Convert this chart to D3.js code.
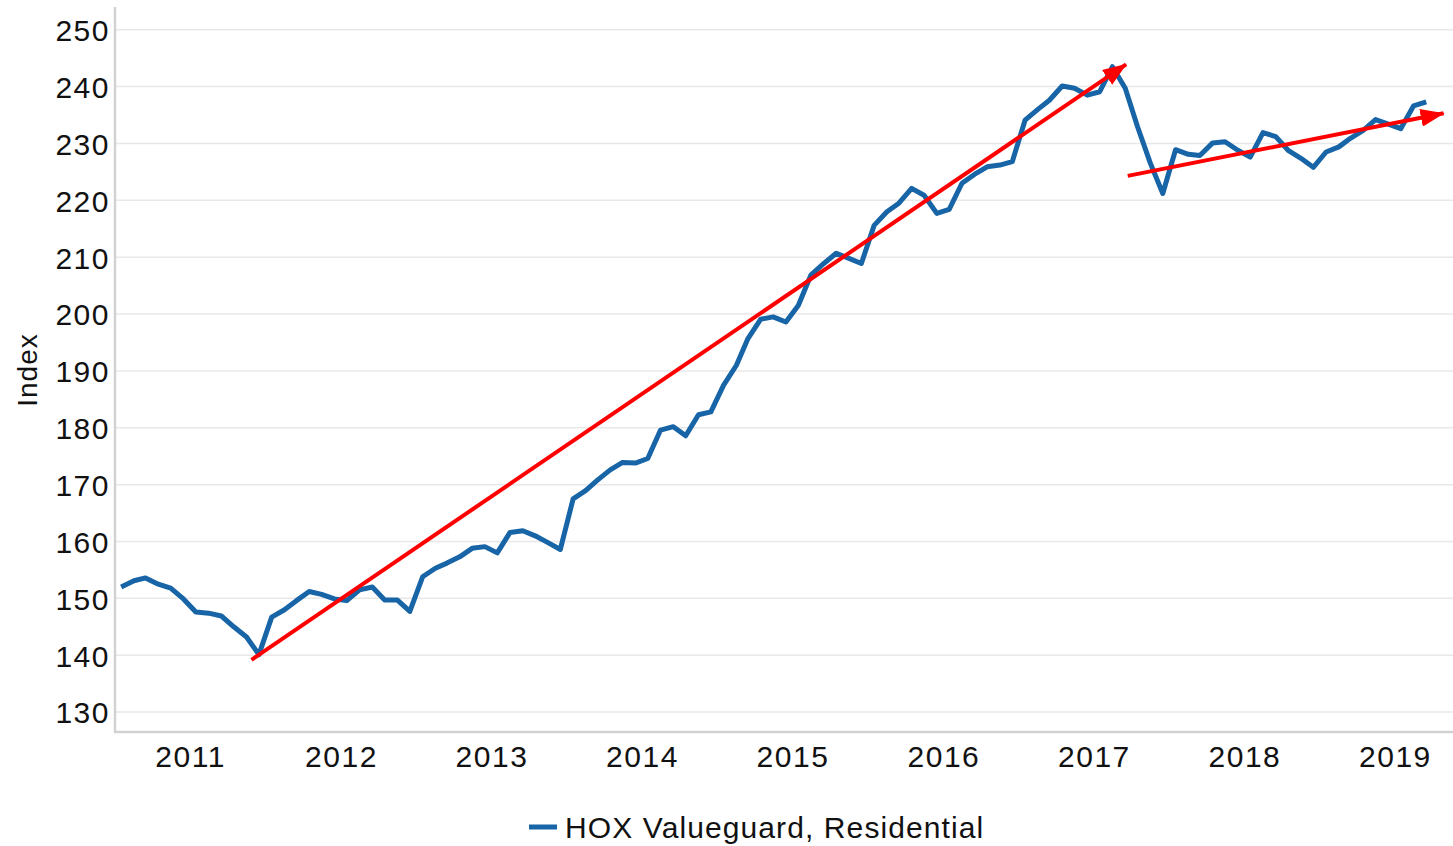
<!DOCTYPE html>
<meta charset="utf-8">
<style>
body { margin: 0; background: #fff; }
text {
  font-family: "Liberation Sans", Arial, sans-serif;
  fill: #111;
}
.grid line { stroke: #e8e8e8; stroke-width: 1.5px; }
.axis-line { stroke: #d2d2d2; stroke-width: 2.5px; }
.series { fill: none; stroke: #1764a6; stroke-width: 5px; stroke-linejoin: round; }
.trend { stroke: #ff0000; stroke-width: 4px; }
</style>
<body>
<script src="https://cdn.jsdelivr.net/npm/d3@7"></script>
<script>

// monthly index, Jan 2011 .. Sep 2019
var startYear = 2011;
var hox = [
  152.0, 153.1, 153.6, 152.5, 151.8, 149.9, 147.6, 147.4, 146.9, 145.0, 143.2, 140.1,
  146.7, 148.0, 149.6, 151.2, 150.7, 149.9, 149.6, 151.5, 152.0, 149.7, 149.7, 147.7,
  153.8, 155.3, 156.2, 157.3, 158.8, 159.1, 158.0, 161.6, 161.9, 161.0, 159.8, 158.6,
  167.5, 169.0, 170.8, 172.6, 173.9, 173.8, 174.6, 179.6, 180.2, 178.6, 182.3, 182.8,
  187.5, 191.0, 195.7, 199.1, 199.5, 198.6, 201.5, 206.9, 208.9, 210.7, 209.8, 208.9,
  215.6, 218.0, 219.5, 222.1, 220.9, 217.7, 218.4, 223.0, 224.6, 225.9, 226.2, 226.8,
  234.1, 236.0, 237.6, 240.1, 239.7, 238.5, 239.1, 243.5, 239.7, 232.9, 226.5, 221.2,
  228.9, 228.1, 227.9, 230.1, 230.3, 228.8, 227.6, 231.9, 231.2, 228.8, 227.4, 225.8,
  228.5, 229.4, 230.9, 232.3, 234.2, 233.4, 232.6, 236.6, 237.3
];

var yTicks = [130, 140, 150, 160, 170, 180, 190, 200, 210, 220, 230, 240, 250];
var yearLabels = [2011, 2012, 2013, 2014, 2015, 2016, 2017, 2018, 2019];
var seriesName = "HOX Valueguard, Residential";

// red trend arrows drawn on top: [start month index, start value, end month index, end value]
var trendArrows = [
  [10.4, 139.2, 80.1, 243.9],
  [80.2, 224.3, 105.4, 235.3]
];

var width = 1453,
    height = 846;

var data = hox.map(function (v, i) {
  return {date: new Date(startYear, i, 16), value: v};
});

function monthDate(m) {
  var whole = Math.floor(m);
  return new Date(startYear, whole, 16 + (m - whole) * 30);
}

var x = d3.scaleTime()
    .domain([new Date(2011, 0, 1), new Date(2020, 0, 1)])
    .range([115, 1470.4]);

var y = d3.scaleLinear()
    .domain([126.5, 254])
    .range([732, 7]);

var svg = d3.select("body").append("svg")
    .attr("width", width)
    .attr("height", height);

svg.append("defs")
   .append("marker")
    .attr("id", "arrowhead")
    .attr("viewBox", "0 -9 24 18")
    .attr("refX", 23)
    .attr("refY", 0)
    .attr("markerUnits", "userSpaceOnUse")
    .attr("markerWidth", 24)
    .attr("markerHeight", 18)
    .attr("orient", "auto")
  .append("path")
    .attr("d", "M0,-9L24,0L0,9Z")
    .attr("fill", "#ff0000");

// grid
svg.append("g")
    .attr("class", "grid")
    .selectAll("line")
    .data(yTicks)
    .enter().append("line")
      .attr("x1", 115)
      .attr("x2", width)
      .attr("y1", function (d) { return y(d); })
      .attr("y2", function (d) { return y(d); });

// axes lines
svg.append("line")
    .attr("class", "axis-line")
    .attr("x1", 115).attr("x2", 115)
    .attr("y1", y.range()[1]).attr("y2", y.range()[0]);
svg.append("line")
    .attr("class", "axis-line")
    .attr("x1", 114).attr("x2", width)
    .attr("y1", y.range()[0]).attr("y2", y.range()[0]);

// y labels
var yAxis = d3.axisLeft(y).tickValues(yTicks).tickSize(0).tickPadding(0);
var gy = svg.append("g")
    .attr("transform", "translate(110,0)")
    .call(yAxis);
gy.select(".domain").remove();
gy.selectAll("text")
    .style("font-size", "30px")
    .style("letter-spacing", "1.5px")
    .attr("dy", "0.36em")
    .attr("fill", "#111");

// x labels centred in each year
var xAxis = d3.axisBottom(x)
    .tickValues(yearLabels.map(function (yr) { return new Date(yr, 6, 2); }))
    .tickFormat(d3.timeFormat("%Y"))
    .tickSize(0)
    .tickPadding(0);
var gx = svg.append("g")
    .attr("transform", "translate(0,767)")
    .call(xAxis);
gx.select(".domain").remove();
gx.selectAll("text")
    .style("font-size", "30px")
    .style("letter-spacing", "1.5px")
    .attr("dy", 0)
    .attr("fill", "#111");

// axis title
svg.append("text")
    .attr("transform", "translate(37,370) rotate(-90)")
    .attr("text-anchor", "middle")
    .style("font-size", "28px")
    .style("letter-spacing", "1px")
    .text("Index");

// series
var line = d3.line()
    .x(function (d) { return x(d.date); })
    .y(function (d) { return y(d.value); });

svg.append("path")
    .datum(data)
    .attr("class", "series")
    .attr("d", line);

// trend arrows
svg.append("g").selectAll("line")
    .data(trendArrows)
    .enter().append("line")
      .attr("class", "trend")
      .attr("x1", function (d) { return x(monthDate(d[0])); })
      .attr("y1", function (d) { return y(d[1]); })
      .attr("x2", function (d) { return x(monthDate(d[2])); })
      .attr("y2", function (d) { return y(d[3]); })
      .attr("marker-end", "url(#arrowhead)");

// legend
var legend = svg.append("g").attr("transform", "translate(529,827)");
legend.append("line")
    .attr("x1", 0).attr("x2", 28)
    .attr("y1", 0).attr("y2", 0)
    .attr("stroke", "#1764a6")
    .attr("stroke-width", 5);
legend.append("text")
    .attr("x", 36)
    .attr("y", 11)
    .style("font-size", "30px")
    .style("letter-spacing", "1.1px")
    .text(seriesName);

</script>
